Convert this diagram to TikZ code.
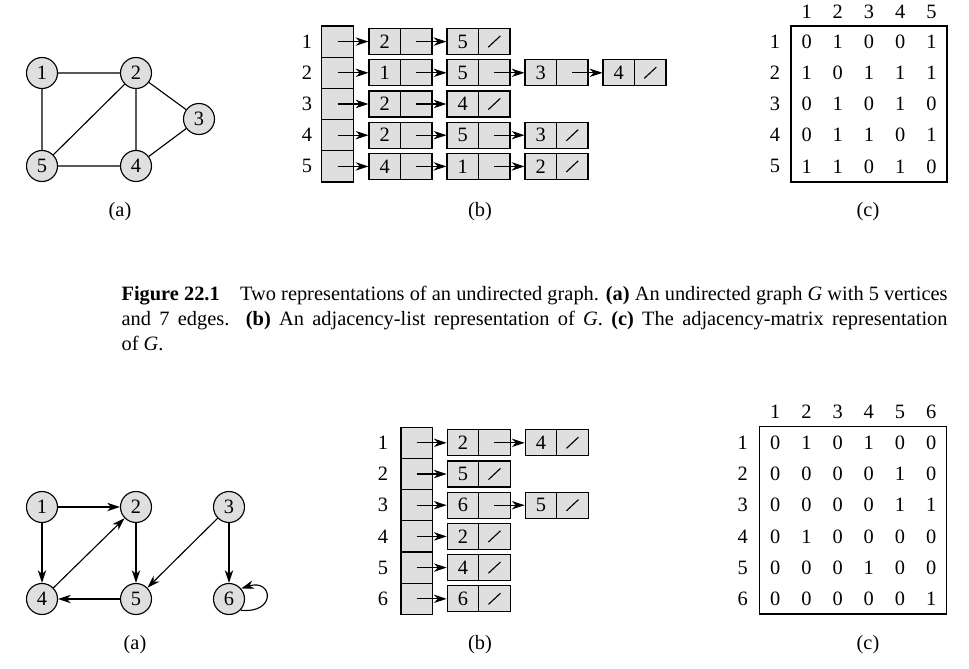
\documentclass[tikz,border=0pt]{standalone}
\usepackage{fontspec}
\setmainfont{Liberation Serif}
\usetikzlibrary{arrows.meta, calc}

\tikzset{
  vertice/.style={circle, draw, fill=gray!25, minimum size=0.775cm, inner sep=0pt},
  testa/.style={draw, fill=gray!25, minimum width=0.78cm, minimum height=0.78cm, inner sep=0pt},
  cella/.style={draw, fill=gray!25, minimum width=0.7875cm, minimum height=0.65cm, inner sep=0pt},
  freccia/.style={-{Stealth[length=0.32cm,width=0.21cm,inset=0.1cm]}},
}

\begin{document}
\begin{tikzpicture}[line width=0.8pt, font=\fontsize{14.5}{17}\selectfont]
        \useasboundingbox (0,0) rectangle (24.225,16.7);

        % Grafo non orientato (a)
        \node[vertice] (n1) at (1.05,14.875) {1};
        \node[vertice] (n2) at (3.4,14.875) {2};
        \node[vertice] (n3) at (4.975,13.725) {3};
        \node[vertice] (n4) at (3.4,12.55) {4};
        \node[vertice] (n5) at (1.05,12.55) {5};
        \draw (n1) -- (n2) (n1) -- (n5) (n2) -- (n5) (n2) -- (n4)
              (n2) -- (n3) (n3) -- (n4) (n5) -- (n4);
        \node (na) at (3.0,11.4) {(a)};

        % Liste di adiacenza (b)
        \foreach \r/\n/\lst in {1/2/{2,5}, 2/4/{1,5,3,4}, 3/2/{2,4}, 4/3/{2,5,3}, 5/3/{4,1,2}} {
            \pgfmathsetmacro\y{15.66-0.78*(\r-1)}
            \node (nr\r) at (7.675,\y) {\r};
            \node[testa] (nt\r) at (8.4375,\y) {};
            \foreach \v [count=\c] in \lst {
                \pgfmathsetmacro\x{9.619+1.95*(\c-1)}
                \node[cella] (nk\r-\c) at (\x,\y) {\v};
                \node[cella] (np\r-\c) at (\x+0.7875,\y) {};
                \ifnum\c=1
                    \draw[freccia] (nt\r.center) -- (nk\r-\c.west);
                \else
                    \pgfmathtruncatemacro\prev{\c-1}
                    \draw[freccia] (np\r-\prev.center) -- (nk\r-\c.west);
                \fi
                \ifnum\c=\n
                    \draw ([shift={(-0.15,-0.14)}]np\r-\c.center) -- ([shift={(0.15,0.14)}]np\r-\c.center);
                \fi
            }
        }
        \node (nb) at (12.0,11.4) {(b)};

        % Matrice di adiacenza (c)
        \draw (19.775,12.15) rectangle (23.675,16.05);
        \foreach \c in {1,...,5}
            \node (nc\c) at ({20.165+0.78*(\c-1)},16.41) {\c};
        \foreach \r/\riga in {1/{0,1,0,0,1}, 2/{1,0,1,1,1}, 3/{0,1,0,1,0}, 4/{0,1,1,0,1}, 5/{1,1,0,1,0}} {
            \pgfmathsetmacro\y{15.66-0.78*(\r-1)}
            \node (nm\r) at (19.375,\y) {\r};
            \foreach \v [count=\c] in \riga
                \node (nm\r-\c) at ({20.165+0.78*(\c-1)},\y) {\v};
        }
        \node (nc) at (21.7,11.4) {(c)};

        % Didascalia
        \node[anchor=north west, inner sep=0pt, text width=20.65cm, align=justify,
              font=\fontsize{14.5}{17.7}\selectfont] (didascalia) at (3.025,9.56)
            {\textbf{Figure 22.1}\quad Two representations of an undirected graph. \textbf{(a)} An undirected graph \textit{G} with 5 vertices\linebreak
             and 7 edges. \textbf{(b)} An adjacency-list representation of \textit{G\/}. \textbf{(c)} The adjacency-matrix representation\linebreak
             of \textit{G\/}.};

        % Grafo orientato (a)
        \node[vertice] (o1) at (1.05,4.025) {1};
        \node[vertice] (o2) at (3.4,4.025) {2};
        \node[vertice] (o3) at (5.725,4.025) {3};
        \node[vertice] (o4) at (1.05,1.725) {4};
        \node[vertice] (o5) at (3.4,1.725) {5};
        \node[vertice] (o6) at (5.725,1.725) {6};
        \draw[freccia] (o1) -- (o2);
        \draw[freccia] (o1) -- (o4);
        \draw[freccia] (o2) -- (o5);
        \draw[freccia] (o4) -- (o2);
        \draw[freccia] (o5) -- (o4);
        \draw[freccia] (o3) -- (o5);
        \draw[freccia] (o3) -- (o6);
        \draw[freccia] (o6.-44) .. controls +(0.9,-0.1) and +(0.8,0.25) .. (o6.41);
        \node (oa) at (3.375,0.575) {(a)};

        % Liste di adiacenza (b)
        \foreach \r/\n/\lst in {1/2/{2,4}, 2/1/{5}, 3/2/{6,5}, 4/1/{2}, 5/1/{4}, 6/1/{6}} {
            \pgfmathsetmacro\y{5.63-0.78*(\r-1)}
            \node (or\r) at (9.575,\y) {\r};
            \node[testa] (ot\r) at (10.415,\y) {};
            \foreach \v [count=\c] in \lst {
                \pgfmathsetmacro\x{11.574+1.95*(\c-1)}
                \node[cella] (ok\r-\c) at (\x,\y) {\v};
                \node[cella] (op\r-\c) at (\x+0.7875,\y) {};
                \ifnum\c=1
                    \draw[freccia] (ot\r.center) -- (ok\r-\c.west);
                \else
                    \pgfmathtruncatemacro\prev{\c-1}
                    \draw[freccia] (op\r-\prev.center) -- (ok\r-\c.west);
                \fi
                \ifnum\c=\n
                    \draw ([shift={(-0.15,-0.14)}]op\r-\c.center) -- ([shift={(0.15,0.14)}]op\r-\c.center);
                \fi
            }
        }
        \node (ob) at (12.0,0.575) {(b)};

        % Matrice di adiacenza (c)
        \draw (18.99,1.35) rectangle (23.67,6.03);
        \foreach \c in {1,...,6}
            \node (oc\c) at ({19.38+0.78*(\c-1)},6.41) {\c};
        \foreach \r/\riga in {1/{0,1,0,1,0,0}, 2/{0,0,0,0,1,0}, 3/{0,0,0,0,1,1}, 4/{0,1,0,0,0,0}, 5/{0,0,0,1,0,0}, 6/{0,0,0,0,0,1}} {
            \pgfmathsetmacro\y{5.63-0.78*(\r-1)}
            \node (om\r) at (18.57,\y) {\r};
            \foreach \v [count=\c] in \riga
                \node (om\r-\c) at ({19.38+0.78*(\c-1)},\y) {\v};
        }
        \node (oc) at (21.7,0.575) {(c)};

\end{tikzpicture}
\end{document}
